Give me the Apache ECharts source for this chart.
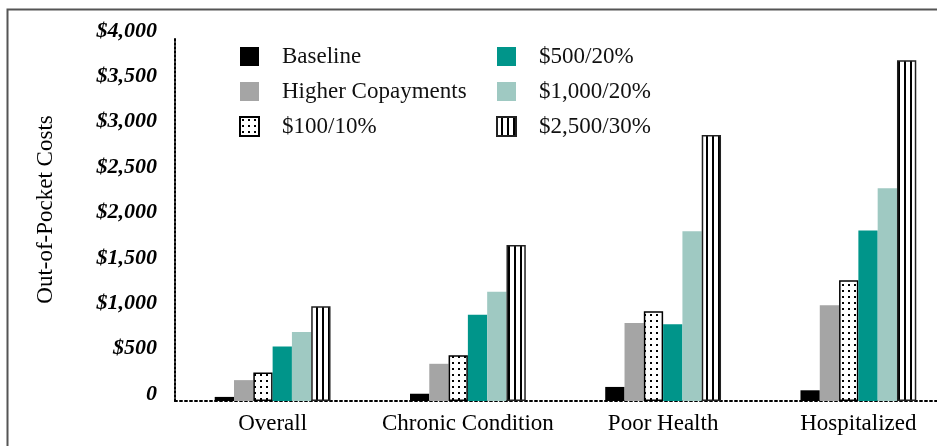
<!DOCTYPE html>
<html>
<head>
<meta charset="utf-8">
<script src="https://cdn.jsdelivr.net/npm/echarts@6/dist/echarts.min.js"></script>
<style>
html,body{margin:0;padding:0;background:#fff;}
#chart{width:937px;height:446px;}
</style>
</head>
<body>
<div id="chart"></div>
<script>
const categories = ['Overall', 'Chronic Condition', 'Poor Health', 'Hospitalized'];
const seriesNames = ['Baseline', 'Higher Copayments', '$100/10%', '$500/20%', '$1,000/20%', '$2,500/30%'];
const baseline = [45, 80, 155, 118];
const higherCopay = [230, 410, 860, 1055];
const plan100_10 = [315, 505, 990, 1330];
const plan500_20 = [600, 950, 845, 1880];
const plan1000_20 = [760, 1205, 1870, 2345];
const plan2500_30 = [1045, 1720, 2930, 3755];
const yTicks = [0, 500, 1000, 1500, 2000, 2500, 3000, 3500, 4000];

function makePattern(w, h, draw) {
  const c = document.createElement('canvas');
  c.width = w; c.height = h;
  const ctx = c.getContext('2d');
  ctx.fillStyle = '#fff';
  ctx.fillRect(0, 0, w, h);
  ctx.fillStyle = '#000';
  draw(ctx);
  return { image: c, repeat: 'repeat' };
}
const dotPattern = makePattern(6, 6, ctx => ctx.fillRect(2, 2, 2, 2));
const stripePattern = makePattern(6, 4, ctx => ctx.fillRect(4, 0, 2, 4));

const serif = 'Liberation Serif';
const chart = echarts.init(document.getElementById('chart'));

function bar(name, data, itemStyle) {
  return {
    name: name, type: 'bar', data: data,
    barWidth: 19.3, barGap: '0%',
    itemStyle: itemStyle,
    emphasis: { disabled: true }
  };
}

const legendCommon = {
  orient: 'vertical',
  itemWidth: 19, itemHeight: 19,
  itemGap: 12,
  icon: 'rect',
  textStyle: { fontFamily: serif, fontSize: 23, color: '#111', padding: [0, 0, 0, 18] },
  selectedMode: false
};

chart.setOption({
  animation: false,
  backgroundColor: '#fff',
  graphic: [{
    type: 'rect', left: 5, top: 7, silent: true,
    shape: { width: 1000, height: 500 },
    style: { fill: 'none', stroke: '#555', lineWidth: 2 }
  }],
  legend: [
    Object.assign({}, legendCommon, { left: 234, top: 40, data: seriesNames.slice(0, 3) }),
    Object.assign({}, legendCommon, { left: 491, top: 40, data: seriesNames.slice(3, 6) })
  ],
  grid: { left: 175, top: 38, width: 781, height: 363, outerBoundsMode: 'none', containLabel: false },
  xAxis: {
    type: 'category', data: categories,
    axisLine: { lineStyle: { color: '#000', type: [2, 3], width: 2 } },
    axisTick: { show: false },
    axisLabel: { interval: 0, fontFamily: serif, fontSize: 23, color: '#000', margin: 11 }
  },
  yAxis: {
    type: 'value', min: 0, max: 4000, interval: 500,
    name: 'Out-of-Pocket Costs', nameLocation: 'middle', nameGap: 118,
    nameTextStyle: { fontFamily: serif, fontSize: 23, color: '#000', padding: [0, 0, 0, 20] },
    axisLine: { show: true, lineStyle: { color: '#000', type: [2, 2], width: 2 } },
    axisTick: { show: false },
    splitLine: { show: false },
    axisLabel: {
      fontFamily: serif, fontSize: 22, fontStyle: 'italic', fontWeight: 'bold', color: '#000',
      margin: 18, verticalAlign: 'bottom', lineHeight: 14,
      formatter: v => v === 0 ? '0' : '$' + v.toLocaleString('en-US')
    }
  },
  series: [
    bar(seriesNames[0], baseline, { color: '#000' }),
    bar(seriesNames[1], higherCopay, { color: '#a5a5a5' }),
    bar(seriesNames[2], plan100_10, { color: dotPattern, borderColor: '#000', borderWidth: 1.5 }),
    bar(seriesNames[3], plan500_20, { color: '#00958a' }),
    bar(seriesNames[4], plan1000_20, { color: '#9fc9c2' }),
    bar(seriesNames[5], plan2500_30, { color: stripePattern, borderColor: '#222', borderWidth: 1.5 })
  ]
});
</script>
</body>
</html>
